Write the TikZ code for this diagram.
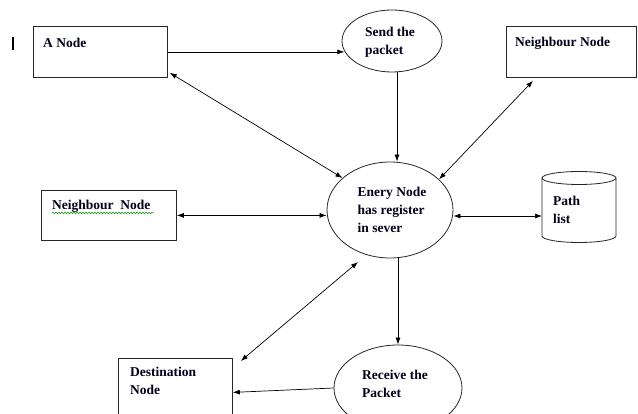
\documentclass[tikz,border=0pt]{standalone}
\usepackage{fontspec}
\setmainfont{Liberation Serif}
\usetikzlibrary{arrows.meta,shapes.geometric,decorations.pathmorphing}
\begin{document}
\begin{tikzpicture}[x=1pt,y=-1pt,
 box/.style={draw=black!85,line width=0.8pt,rectangle,inner sep=0pt,anchor=north west},
 oval/.style={draw=black!85,line width=0.8pt,ellipse,inner sep=0pt},
 lbl/.style={font=\fontsize{13.5}{18}\selectfont\bfseries,align=left,inner sep=0pt,text=black!90!blue},
 arr/.style={line width=0.7pt,-{Latex[length=7pt,width=5pt]}},
 darr/.style={line width=0.7pt,{Latex[length=7pt,width=5pt]}-{Latex[length=7pt,width=5pt]}},
 cyl/.style={draw=black!85,line width=0.8pt}]
\useasboundingbox (0,0) rectangle (638,414);

% cursor bar
\draw[line width=1.5pt] (13,37) -- (13,50);

% boxes
\node[box,minimum width=134pt,minimum height=51pt] (anode) at (33,26) {};
\node[lbl,anchor=north west] (anodet) at (43,37.5) {A Node};
\node[box,minimum width=130pt,minimum height=51pt] (nbtr) at (506,26) {};
\node[lbl,anchor=north west] (nbtrt) at (515,37) {Neighbour Node};
\node[box,minimum width=135pt,minimum height=50pt] (nbl) at (41,190) {};
\node[lbl,anchor=north west] (nblt) at (52,200) {Neighbour~ Node};
\draw[green!55!black,line width=0.5pt,decorate,decoration={snake,amplitude=0.7pt,segment length=3pt}] (52,213) -- (154,213);
\node[box,minimum width=114pt,minimum height=58pt] (dest) at (118,358) {};
\node[lbl,anchor=north west] (destt) at (130,367) {Destination\\Node};

% ellipses
\node[oval,minimum width=100pt,minimum height=62pt] (send) at (392,41) {};
\node[lbl] (sendt) at (390,42) {Send the\\packet};
\node[oval,minimum width=126pt,minimum height=96pt] (central) at (390,210) {};
\node[lbl] (centralt) at (392,210) {Enery Node\\has register\\in sever};
\node[oval,minimum width=128pt,minimum height=86pt] (recv) at (398,388) {};
\node[lbl] (recvt) at (395,384) {Receive the\\Packet};

% cylinder (path list)
\draw[cyl] (579,178) ellipse[x radius=37,y radius=6.5];
\draw[cyl] (542,178) -- (542,236) arc[start angle=180,end angle=0,x radius=37,y radius=6.5] -- (616,178);
\coordinate (pl) at (542,216);
\node[lbl,anchor=north west] (plt) at (553,196) {Path\\list};

% connectors
\coordinate (cbl) at (358,262);
\draw[arr] (anode.east) -- (anode.east -| send.192);
\draw[arr] ([xshift=5pt]send.south) -- ([xshift=5pt]send.south |- central.north);
\draw[darr] ([shift={(2,-5)}]anode.south east) -- (central.146);
\draw[darr] ([shift={(27,3)}]nbtr.south west) -- (central.32);
\draw[darr] (nbl.east) -- (nbl.east -| central.west);
\draw[darr] (pl -| central.east) -- (pl);
\draw[darr] (cbl) -- ([shift={(8,3)}]dest.north east);
\draw[arr] (recv.north |- central.south) -- (recv.north);
\draw[arr] (recv.west) -- ([yshift=-5pt]dest.east);
\end{tikzpicture}
\end{document}
